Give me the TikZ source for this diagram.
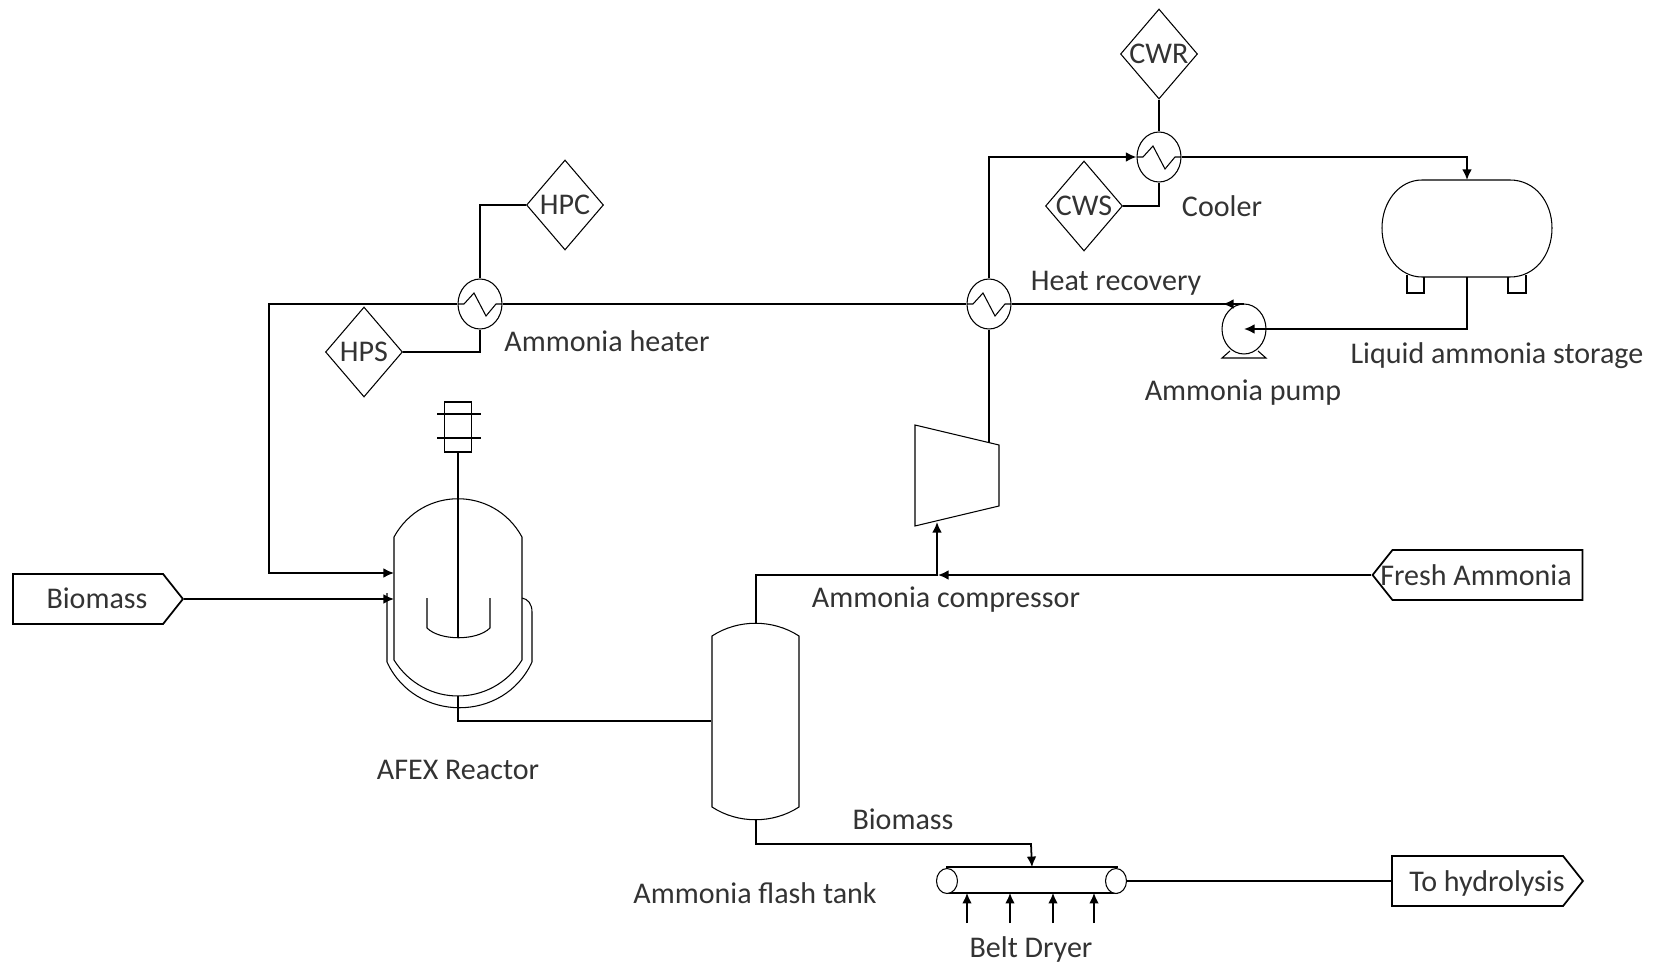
\documentclass[tikz,border=0pt]{standalone}
\usepackage{fontspec}
\setmainfont{Carlito}
\usetikzlibrary{arrows.meta,shapes.geometric,shapes.symbols}

\begin{document}
\begin{tikzpicture}[x=0.02cm,y=-0.02cm,line width=1pt,>={Latex[length=6pt,width=5.5pt]},
	text node/.style={text=black!80,font=\fontsize{17.1}{20}\selectfont,inner sep=0pt},
	util node/.style={diamond,draw,semithick,aspect=0.85,minimum width=1.54cm,minimum height=1.8cm,inner sep=0pt,text=black!80,font=\fontsize{17.1}{20}\selectfont},
	hx node/.style={ellipse,draw,semithick,minimum width=0.88cm,minimum height=1cm,inner sep=0pt},
	tag node/.style={signal,draw,minimum height=1cm,inner sep=0pt,signal pointer angle=103},
	box node/.style={inner sep=0pt},
	zigzag/.pic={\draw[semithick] (-22,0) -- (-16,0) -- (-6,-11) -- (6,12) -- (16,0) -- (22,0);}]

	\useasboundingbox (0,0) rectangle (1658,973);

	% exchangers and utilities
	\node[hx node] (heater) at (480,304) {};
	\node[hx node] (recovery) at (989,304) {};
	\node[hx node] (cooler) at (1159,157) {};
	\node[hx node] (pump) at (1244,329) {};
	\pic at (heater) {zigzag};
	\pic at (recovery) {zigzag};
	\pic at (cooler) {zigzag};
	\node[util node] (hpc) at (565,205) {HPC};
	\node[util node] (hps) at (364,352) {HPS};
	\node[util node] (cwr) at (1159,54) {CWR};
	\node[util node] (cws) at (1084,206) {CWS};

	% streams in and out
	\node[tag node,signal to=east,minimum width=3.4cm] (biomass) at (88,599) {};
	\node[tag node,signal to=west,minimum width=4.2cm] (fresh) at (1487.5,575) {};
	\node[tag node,signal to=east,minimum width=3.82cm] (hydrolysis) at (1477.5,881) {};
	\node[text node] (lblin) at (97,598) {Biomass};
	\node[text node] (lblfresh) at (1476,575) {Fresh Ammonia};
	\node[text node] (lblout) at (1487,883) {To hydrolysis};

	% reactor
	\coordinate (reactortop) at (458,499);
	\coordinate (reactorbottom) at (458,696);
	\coordinate (reactorin1) at (394,573);
	\coordinate (reactorin2) at (394,599);
	\draw[semithick] (394,660) -- (394,537) .. controls (422,486) and (494,486) .. (522,537) -- (522,660) .. controls (492,708) and (424,708) .. (394,660) -- cycle;
	\draw[semithick] (387,593) -- (387,662) .. controls (415,723) and (504,723) .. (532,662) -- (532,612) .. controls (532,604) and (528,599) .. (522,598);
	\draw[semithick] (427,598) -- (427,628) .. controls (440,641) and (477,641) .. (490,628) -- (490,598);
	\node[box node,draw,minimum width=0.54cm,minimum height=1cm] (motor) at (458,427) {};
	\draw (437,414) -- (481,414);
	\draw (437,438) -- (481,438);
	\draw (motor.south) -- (458,638);

	% flash tank
	\node[box node,minimum width=1.74cm,minimum height=3.42cm] (tank) at (755.5,721) {};
	\coordinate (tanktop) at (756,623);
	\coordinate (tankbottom) at (756,820);
	\draw[semithick] (712,807) -- (712,636) .. controls (738,619) and (773,619) .. (799,636) -- (799,807) .. controls (773,824) and (738,824) .. (712,807) -- cycle;

	% compressor
	\coordinate (compin) at (937,522);
	\coordinate (compout) at (989,443);
	\coordinate (junction) at (938,575);
	\draw[semithick] (915,425) -- (999,445) -- (999,506) -- (915,526) -- cycle;

	% storage
	\coordinate (storagetop) at (1467,180);
	\coordinate (storagebottom) at (1467,277);
	\draw[semithick] (1422,180) -- (1510,180) .. controls (1535,180) and (1552,202) .. (1552,228) .. controls (1552,255) and (1535,277) .. (1510,277) -- (1422,277) .. controls (1399,277) and (1382,255) .. (1382,228) .. controls (1382,202) and (1399,180) .. (1422,180) -- cycle;
	\draw[semithick] (1407,275) -- (1407,293) -- (1424,293) -- (1424,277);
	\draw[semithick] (1508,277) -- (1508,293) -- (1526,293) -- (1526,275);

	% pump foot
	\draw[semithick] (1230,351) -- (1222,358) -- (1266,358) -- (1258,351);
	\coordinate (pumpout) at (1223,304);

	% dryer
	\node[box node,minimum width=3.4cm,minimum height=0.48cm] (dryer) at (1032,880) {};
	\draw (dryer.north west) -- (dryer.north east);
	\draw (dryer.south west) -- (dryer.south east);
	\node[hx node,fill=white,minimum width=0.42cm,minimum height=0.5cm] (roller1) at (947,881) {};
	\node[hx node,fill=white,minimum width=0.42cm,minimum height=0.5cm] (roller2) at (1116,881) {};
	\coordinate (air1) at (967,923);
	\coordinate (air2) at (1010,923);
	\coordinate (air3) at (1053,923);
	\coordinate (air4) at (1094,923);

	% connecting lines
	\draw[->] (heater.west) -- (269,304) |- (reactorin1);
	\draw[->] (biomass.east) -- (reactorin2);
	\draw (heater.north) |- (hpc.west);
	\draw (hps.east) -| (heater.south);
	\draw (heater.east) -- (recovery.west);
	\draw (recovery.east) -- (recovery.east -| pump.north);
	\draw[->] (recovery.east -| pump.north) -- (pumpout);
	\draw[->] (storagebottom) |- (pump.center);
	\draw[->] (recovery.north) |- (cooler.west);
	\draw (recovery.south) -- (compout);
	\draw[->] (cooler.east) -| (storagetop);
	\draw (cwr.south) -- (cooler.north);
	\draw (cws.east) -| (cooler.south);
	\draw (reactorbottom) -- (458,708) |- (tank.west);
	\draw (tanktop) |- (junction);
	\draw[->] (fresh.west) -- (junction);
	\draw[->] (junction -| compin) -- (compin);
	\draw[->] (tankbottom) |- (1031,844) -- (dryer.north);
	\draw[->] (air1) -- (air1 |- dryer.south);
	\draw[->] (air2) -- (air2 |- dryer.south);
	\draw[->] (air3) -- (air3 |- dryer.south);
	\draw[->] (air4) -- (air4 |- dryer.south);
	\draw (roller2.east) -- (hydrolysis.west);

	% equipment names
	\node[text node] (lblheater) at (607,341) {Ammonia heater};
	\node[text node] (lblrecovery) at (1116,283) {Heat recovery};
	\node[text node] (lblcooler) at (1222,206) {Cooler};
	\node[text node] (lblpump) at (1243,393) {Ammonia pump};
	\node[text node] (lblstorage) at (1497,356) {Liquid ammonia storage};
	\node[text node] (lblcomp) at (946,600) {Ammonia compressor};
	\node[text node] (lblreactor) at (458,770) {AFEX Reactor};
	\node[text node] (lblbiomass) at (903,819) {Biomass};
	\node[text node] (lbltank) at (755,893) {Ammonia flash tank};
	\node[text node] (lbldryer) at (1031,949) {Belt Dryer};
\end{tikzpicture}
\end{document}
